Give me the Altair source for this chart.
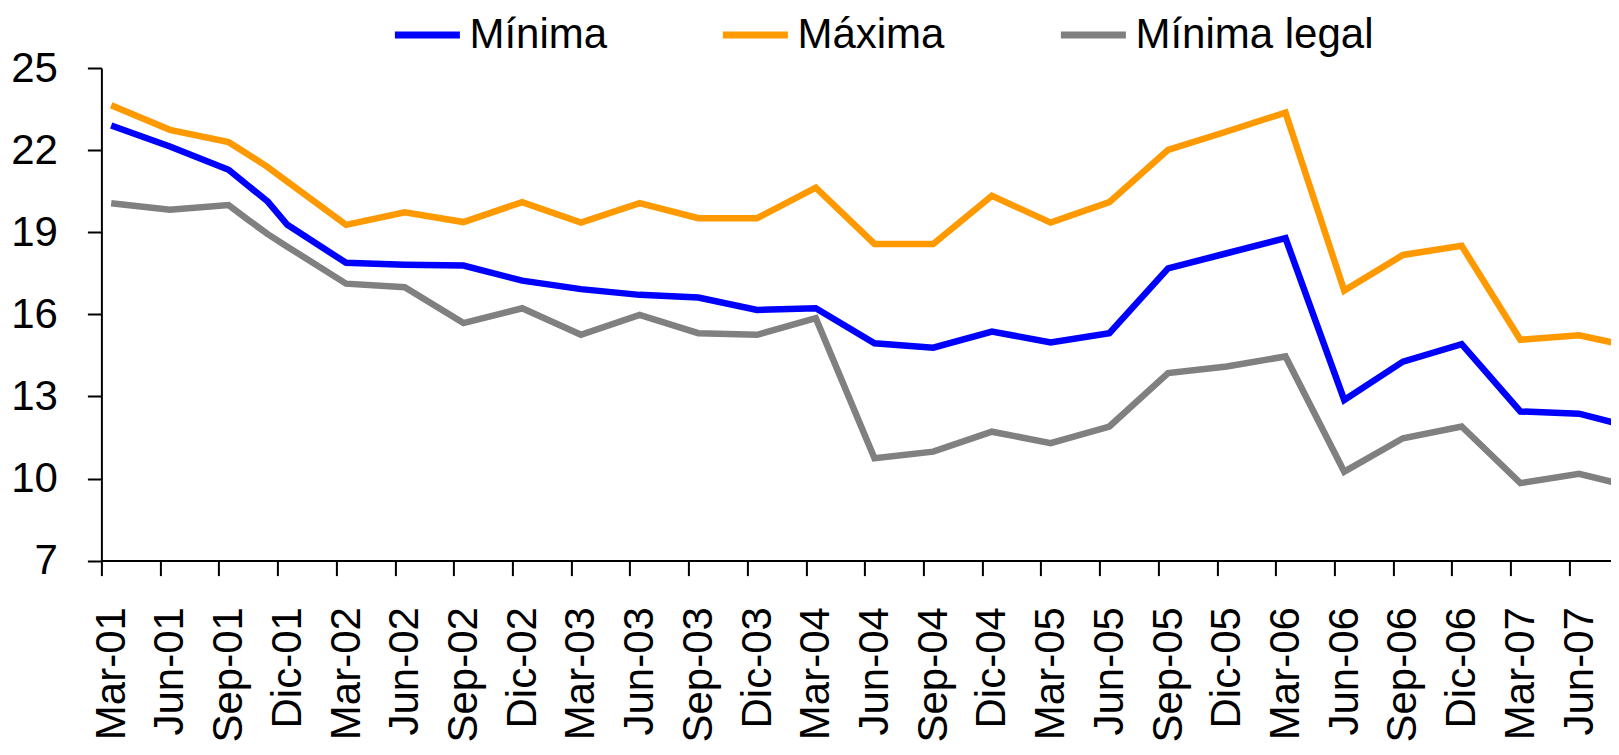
import json
import altair as alt
import pandas as pd

# ---- data ----
periods = ["Mar-01", "Jun-01", "Sep-01", "Oct-01", "Nov-01", "Dic-01",
           "Mar-02", "Jun-02", "Sep-02", "Dic-02",
           "Mar-03", "Jun-03", "Sep-03", "Dic-03",
           "Mar-04", "Jun-04", "Sep-04", "Dic-04",
           "Mar-05", "Jun-05", "Sep-05", "Dic-05",
           "Mar-06", "Jun-06", "Sep-06", "Dic-06",
           "Mar-07", "Jun-07", "Sep-07"]

minima = [22.90, 22.13, 21.28, 20.70, 20.12, 19.27,
          17.88, 17.81, 17.78, 17.23,
          16.92, 16.71, 16.61, 16.16,
          16.22, 14.94, 14.78, 15.37,
          14.97, 15.31, 17.68, 18.23,
          18.78, 12.87, 14.27, 14.91,
          12.45, 12.37, 11.82]

maxima = [23.64, 22.74, 22.29, 21.84, 21.38, 20.85,
          19.27, 19.73, 19.37, 20.10,
          19.35, 20.06, 19.51, 19.51,
          20.63, 18.57, 18.57, 20.33,
          19.35, 20.10, 22.01, 22.68,
          23.37, 16.87, 18.17, 18.50,
          15.07, 15.23, 14.78]

minima_legal = [20.06, 19.82, 19.99, 19.45, 18.93, 18.47,
                17.12, 16.99, 15.68, 16.22,
                15.25, 15.98, 15.31, 15.25,
                15.86, 10.74, 10.98, 11.71,
                11.29, 11.90, 13.85, 14.09,
                14.46, 10.25, 11.47, 11.90,
                9.83, 10.17, 9.65]

series_names = ["Mínima", "Máxima", "Mínima legal"]
series_colors = ["#0000FF", "#FF9900", "#808080"]

tick_labels = ["Mar-01", "Jun-01", "Sep-01", "Dic-01",
               "Mar-02", "Jun-02", "Sep-02", "Dic-02",
               "Mar-03", "Jun-03", "Sep-03", "Dic-03",
               "Mar-04", "Jun-04", "Sep-04", "Dic-04",
               "Mar-05", "Jun-05", "Sep-05", "Dic-05",
               "Mar-06", "Jun-06", "Sep-06", "Dic-06",
               "Mar-07", "Jun-07"]

month_num = {"Mar": 3, "Jun": 6, "Sep": 9, "Oct": 10, "Nov": 11, "Dic": 12}


def month_index(label):
    m, y = label.split("-")
    return (int(y) - 1) * 12 + month_num[m] - 3


rows = []
for name, vals in zip(series_names, [minima, maxima, minima_legal]):
    for p, v in zip(periods, vals):
        rows.append({"serie": name, "periodo": p,
                     "mes": month_index(p) + 0.5, "valor": v})
df = pd.DataFrame(rows)

FONT = "Liberation Sans"
px_per_month = 19.572
plot_w = 1509.6
plot_h = 492.6
x_max = plot_w / px_per_month

tick_values = [month_index(t) for t in tick_labels]
label_expr = json.dumps(tick_labels) + "[round(datum.value / 3)]"

chart = alt.Chart(df).mark_line(strokeWidth=6.5, clip=True).encode(
    x=alt.X("mes:Q",
            scale=alt.Scale(domain=[0, x_max], nice=False, zero=False),
            axis=alt.Axis(values=tick_values, labelExpr=label_expr,
                          labelAngle=270, labelOffset=px_per_month * 0.5,
                          labelFont=FONT, labelFontSize=42, labelColor="black",
                          labelPadding=31, labelOverlap=False, labelBound=False,
                          tickSize=15, tickColor="black", tickWidth=2,
                          domainColor="black", domainWidth=2,
                          grid=False, title=None)),
    y=alt.Y("valor:Q",
            scale=alt.Scale(domain=[7, 25], nice=False, zero=False),
            axis=alt.Axis(values=[7, 10, 13, 16, 19, 22, 25],
                          labelFont=FONT, labelFontSize=42, labelColor="black",
                          labelPadding=30, tickSize=14, tickColor="black",
                          tickWidth=2, domainColor="black", domainWidth=2,
                          grid=False, title=None)),
    color=alt.Color("serie:N",
                    scale=alt.Scale(domain=series_names, range=series_colors),
                    legend=alt.Legend(orient="none", legendX=290, legendY=-69,
                                      direction="horizontal", title=None,
                                      symbolType="stroke", symbolSize=4225,
                                      symbolStrokeWidth=7, labelFont=FONT,
                                      labelFontSize=42, labelColor="black",
                                      labelOffset=6, columnPadding=101,
                                      labelLimit=0, padding=0)),
    order=alt.Order("mes:Q"),
).properties(
    width=plot_w,
    height=plot_h,
    autosize=alt.AutoSizeParams(type="none"),
    padding={"left": 93.4, "top": 60, "right": 0, "bottom": 186.4},
).configure_view(stroke=None)

chart.save("out.html", embed_options={"renderer": "svg", "actions": False})
